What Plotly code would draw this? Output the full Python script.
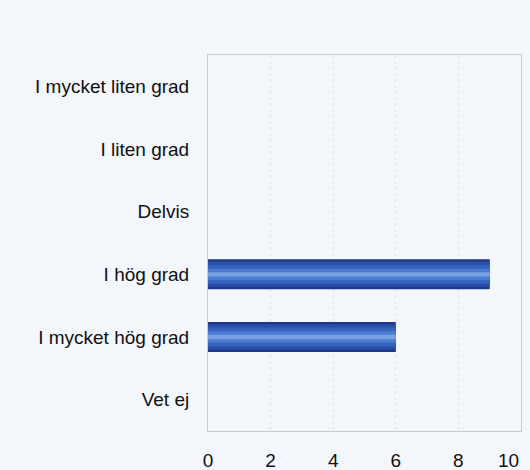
import plotly.graph_objects as go

categories = ["I mycket liten grad", "I liten grad", "Delvis", "I hög grad", "I mycket hög grad", "Vet ej"]
values = [0, 0, 0, 9, 6, 0]
x_ticks = [0, 2, 4, 6, 8, 10]
x_tick_labels = ["0", "2", "4", "6", "8", "10"]

BG = "#f3f6fb"
# stacked layers (width, colour) to mimic the glossy blue gradient
LAYERS = [
    (0.48, "#1d3a8a"),
    (0.40, "#2a4fa8"),
    (0.30, "#3563bf"),
    (0.18, "#4b7bd2"),
    (0.07, "#7aa3e6"),
]

fig = go.Figure()
for w, c in LAYERS:
    fig.add_trace(go.Bar(
        x=values, y=categories, orientation="h", width=w,
        marker=dict(color=c, line=dict(width=0)),
        hoverinfo="x+y" if w == LAYERS[0][0] else "skip",
    ))

# last tick label is right-aligned to the frame so it stays inside the image
fig.add_annotation(
    x=x_ticks[-1], xref="x", y=0, yref="paper", text=x_tick_labels[-1],
    showarrow=False, xanchor="right", yanchor="middle", yshift=-29,
    font=dict(size=19, color="#111"),
)

fig.update_layout(
    width=530, height=470,
    barmode="overlay", showlegend=False,
    paper_bgcolor=BG, plot_bgcolor=BG,
    margin=dict(l=208, r=9, t=55, b=39),
    font=dict(family="Liberation Sans, Arial, sans-serif", size=19, color="#111"),
)
fig.update_xaxes(
    range=[0, 10], tickvals=x_ticks, ticktext=x_tick_labels[:-1] + [""], tickfont=dict(size=19),
    showgrid=True, gridcolor="#dfe3e8", griddash="dot", gridwidth=1,
    zeroline=False, showline=True, mirror=True, linecolor="#c6cad0",
    ticklabelstandoff=12, automargin=False,
)
fig.update_yaxes(
    categoryorder="array", categoryarray=categories, autorange="reversed",
    showgrid=False, zeroline=False, showline=True, mirror=True, linecolor="#c6cad0",
    ticklabelstandoff=14, automargin=False,
)

fig.write_html(
    "out.html",
    config={"displayModeBar": False},
    post_script="document.body.style.margin='0';document.body.style.background='#f3f6fb';",
)
